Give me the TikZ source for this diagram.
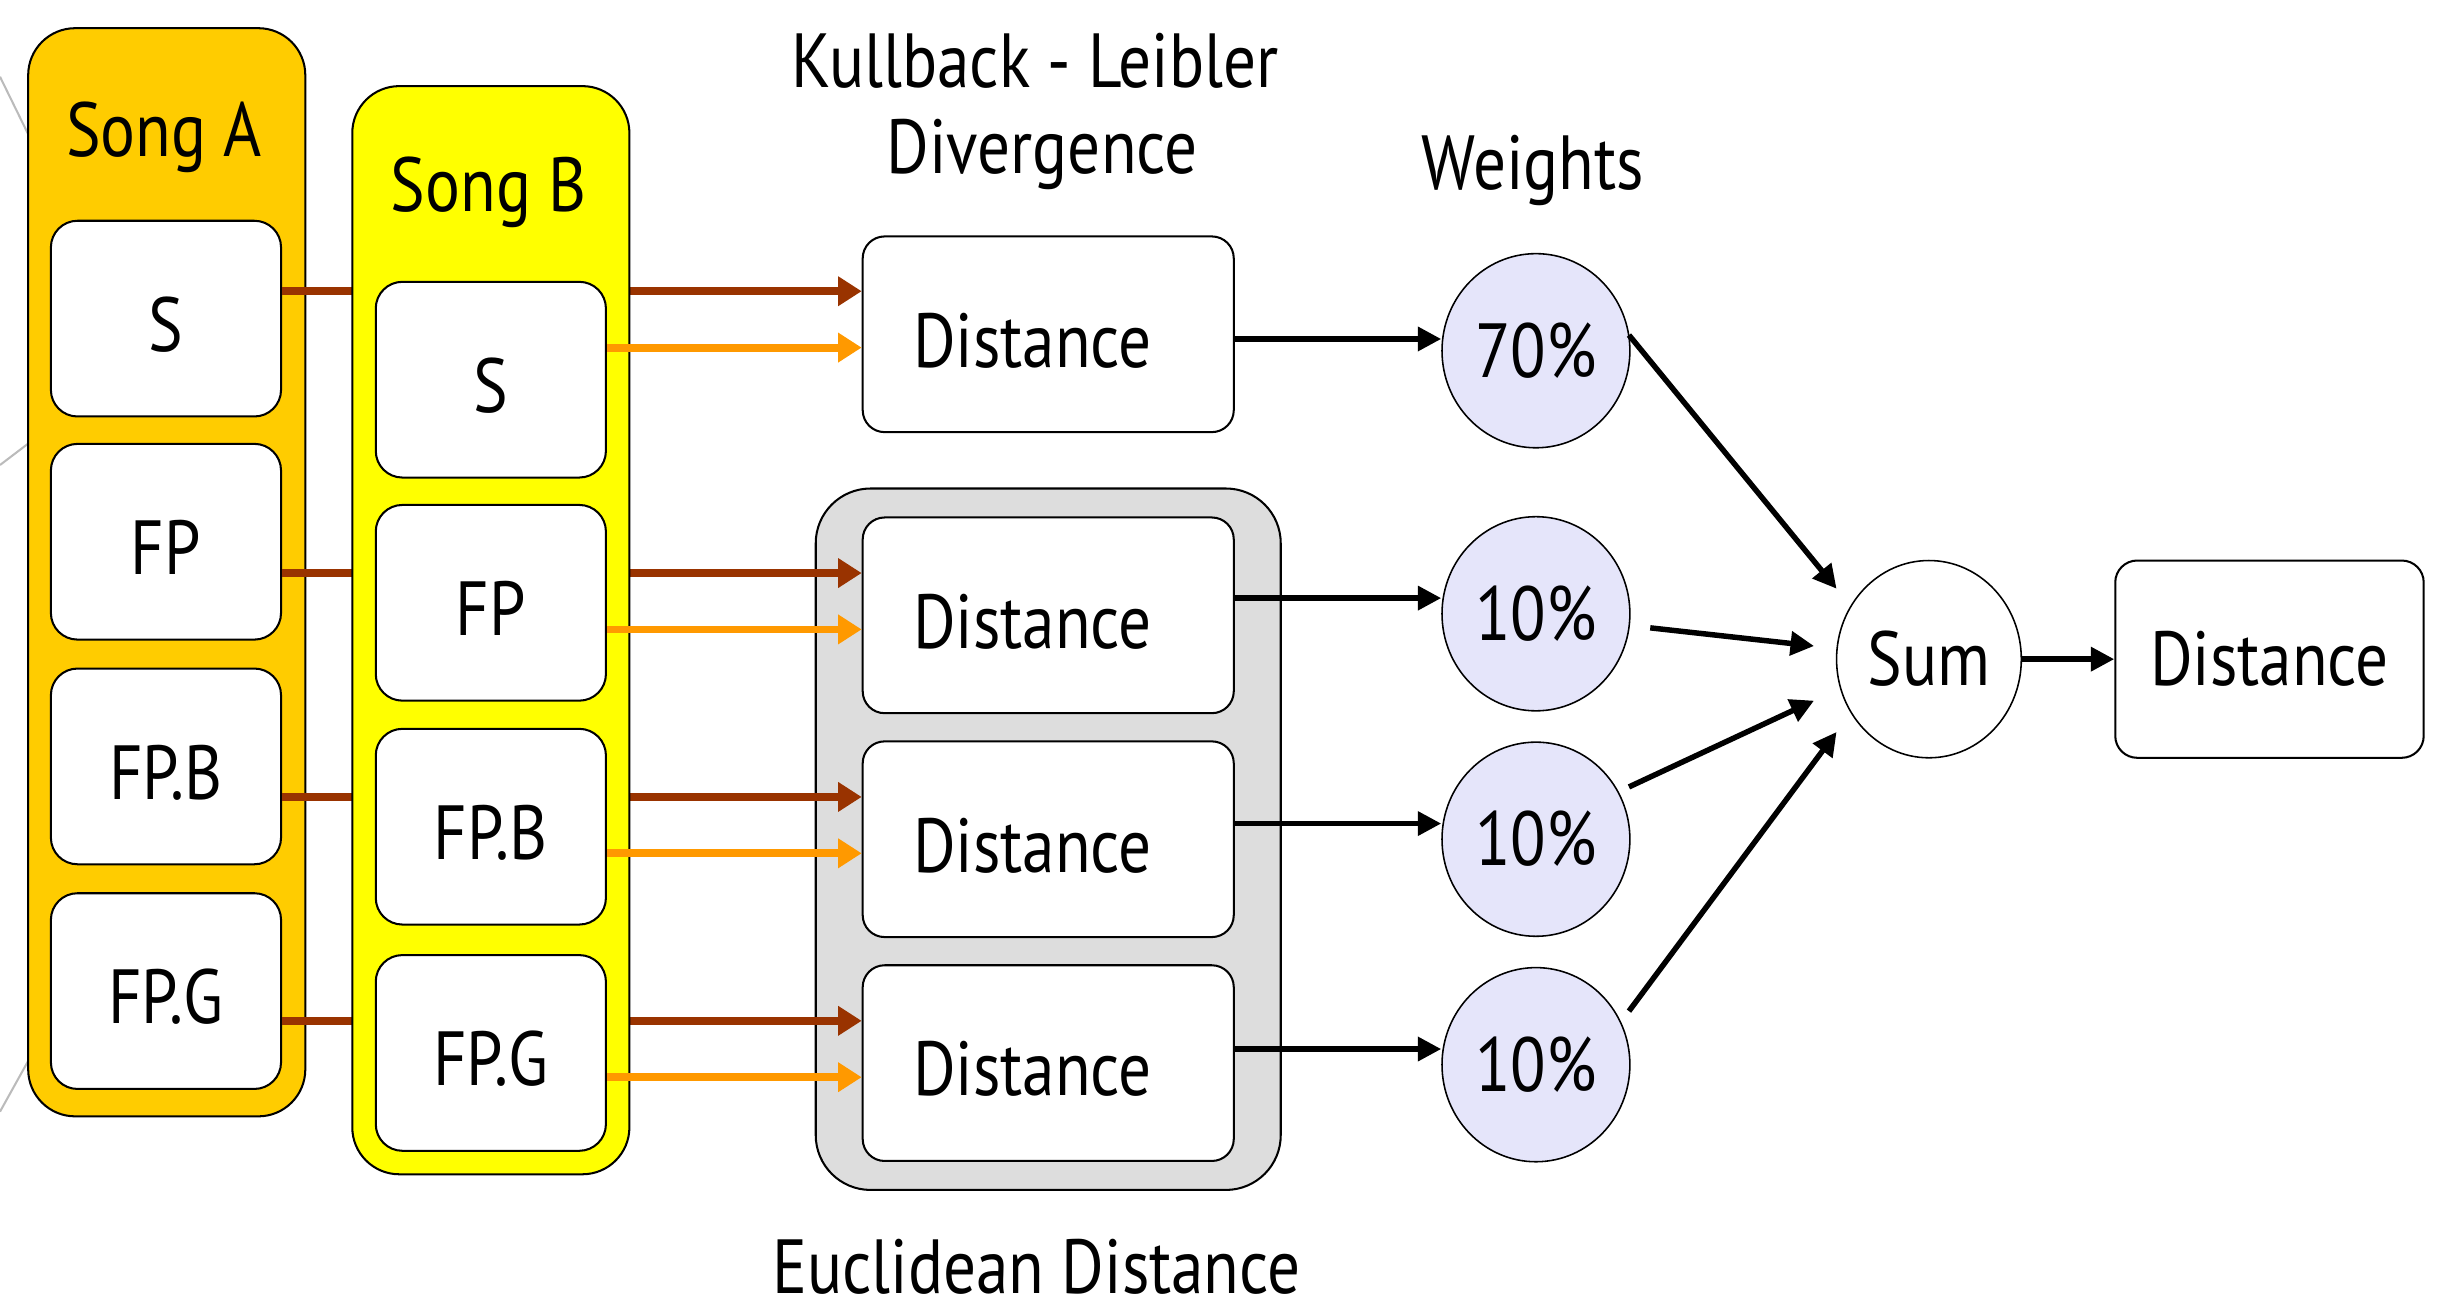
\documentclass[tikz,border=0pt]{standalone}
\usepackage{fontspec}
\setmainfont[FakeStretch=0.85]{PT Sans}
\usetikzlibrary{arrows.meta,calc,shapes.geometric}
\definecolor{songa}{HTML}{FFCC00}
\definecolor{songb}{HTML}{FFFF00}
\definecolor{cbrown}{HTML}{993300}
\definecolor{corange}{HTML}{FF9900}
\definecolor{cgray}{HTML}{DDDDDD}
\definecolor{clav}{HTML}{E5E5FA}
\definecolor{cline}{HTML}{BBBBBB}
\begin{document}
\begin{tikzpicture}[x=1pt,y=-1pt,
  font=\fontsize{49}{58}\selectfont,
  outer/.style={draw=black, line width=1.3pt, rounded corners=30pt, minimum width=177pt, minimum height=695pt, inner sep=0pt},
  box/.style={draw=black, line width=1.3pt, fill=white, rounded corners=17pt, minimum width=147pt, minimum height=125pt, inner sep=0pt, text height=42pt, text depth=0pt},
  dist/.style={box, minimum width=237pt, rounded corners=14pt},
  final/.style={draw=black, line width=1.3pt, fill=white, rounded corners=14pt, minimum width=197pt, minimum height=126pt, inner sep=0pt, text height=34pt, text depth=0pt},
  wt/.style={ellipse, draw=black, line width=1pt, fill=clav, minimum width=120pt, minimum height=124pt, inner sep=0pt, text height=34pt, text depth=0pt},
  sumnode/.style={ellipse, draw=black, line width=1pt, fill=white, minimum width=118pt, minimum height=126pt, inner sep=0pt, text height=34pt, text depth=0pt},
  title/.style={anchor=base, inner sep=0pt},
  brownarrow/.style={draw=cbrown, line width=5pt, -{Triangle[length=15pt,width=18pt]}},
  orangearrow/.style={draw=corange, line width=5pt, -{Triangle[length=15pt,width=18pt]}},
  blackarrow/.style={draw=black, line width=3.5pt, -{Triangle[length=15pt,width=15pt]}},
  bgline/.style={draw=cline, line width=1.3pt}
]
\useasboundingbox (0,0) rectangle (1568,838);

% background decorative lines
\draw[bgline] (0,49) -- (25,100);
\draw[bgline] (0,297) -- (25,278);
\draw[bgline] (0,710) -- (25,665);

% Euclidean container
\node[draw=black, line width=1.3pt, fill=cgray, rounded corners=35pt, minimum width=297pt, minimum height=448pt, inner sep=0pt] (eucl) at (669.5,536) {};

% Song A
\node[outer, fill=songa] (songA) at (106.5,365.5) {};
\node[title] (titleA) at (104.7,99.9) {Song A};
\node[box] (aS) at (106,203.5) {S};
\node[box] (aFP) at (106,346) {FP};
\node[box] (aFPB) at (106,489.5) {FP.B};
\node[box] (aFPG) at (106,633) {FP.G};

% Distance boxes
\node[dist] (d1) at (669.5,213.5) {\hspace*{-20pt}Distance};
\node[dist] (d2) at (669.5,393) {\hspace*{-20pt}Distance};
\node[dist] (d3) at (669.5,536) {\hspace*{-20pt}Distance};
\node[dist] (d4) at (669.5,679) {\hspace*{-20pt}Distance};

% brown connectors from Song A (pass behind Song B)
\coordinate (pa1) at ($(aS.east)+(0,-17.5)$);
\coordinate (pa2) at ($(aFP.east)+(0,20)$);
\coordinate (pa3) at ($(aFPB.east)+(0,19.5)$);
\coordinate (pa4) at ($(aFPG.east)+(0,19)$);
\draw[brownarrow] (pa1) -- (pa1 -| d1.west);
\draw[brownarrow] (pa2) -- (pa2 -| d2.west);
\draw[brownarrow] (pa3) -- (pa3 -| d3.west);
\draw[brownarrow] (pa4) -- (pa4 -| d4.west);

% Song B
\node[outer, fill=songb] (songB) at (313.5,402.5) {};
\node[title] (titleB) at (312.2,135.3) {Song B};
\node[box] (bS) at (313.5,242.5) {S};
\node[box] (bFP) at (313.5,385) {FP};
\node[box] (bFPB) at (313.5,528) {FP.B};
\node[box] (bFPG) at (313.5,672.5) {FP.G};

% orange connectors from Song B
\coordinate (pb1) at ($(bS.east)+(0,-20.5)$);
\coordinate (pb2) at ($(bFP.east)+(0,17)$);
\coordinate (pb3) at ($(bFPB.east)+(0,17)$);
\coordinate (pb4) at ($(bFPG.east)+(0,15.5)$);
\draw[orangearrow] (pb1) -- (pb1 -| d1.west);
\draw[orangearrow] (pb2) -- (pb2 -| d2.west);
\draw[orangearrow] (pb3) -- (pb3 -| d3.west);
\draw[orangearrow] (pb4) -- (pb4 -| d4.west);

% weights
\node[wt] (w1) at (981,224) {70\%};
\node[wt] (w2) at (981,392) {10\%};
\node[wt] (w3) at (981,536) {10\%};
\node[wt] (w4) at (981,680) {10\%};

\coordinate (pd1) at ($(d1.east)+(0,3)$);
\coordinate (pd2) at ($(d2.east)+(0,-11)$);
\coordinate (pd3) at ($(d3.east)+(0,-10)$);
\coordinate (pd4) at ($(d4.east)+(0,-9)$);
\draw[blackarrow] (pd1) -- (pd1 -| w1.west);
\draw[blackarrow] (pd2) -- (pd2 -| w2.west);
\draw[blackarrow] (pd3) -- (pd3 -| w3.west);
\draw[blackarrow] (pd4) -- (pd4 -| w4.west);

% sum and result
\node[sumnode] (sum) at (1232,421) {Sum};
\node[final] (res) at (1449.5,421) {Distance};

\draw[blackarrow] ($(w1)+(59.4,-10)$) -- ($(sum)+(-59,-45)$);
\draw[blackarrow] ($(w2)+(73,9)$) -- ($(sum)+(-73.4,-8.4)$);
\draw[blackarrow] ($(w3)+(59.4,-33.4)$) -- ($(sum)+(-73.4,26.5)$);
\draw[blackarrow] ($(w4)+(59.4,-34.2)$) -- ($(sum)+(-59,46.5)$);
\draw[blackarrow] (sum.east) -- (res.west);

% titles
\node[title] (kl1) at (661,55.8) {Kullback - Leibler};
\node[title] (kl2) at (665.7,110.7) {Divergence};
\node[title] (wtitle) at (979,120.9) {Weights};
\node[title] (etitle) at (662,826) {Euclidean Distance};
\end{tikzpicture}
\end{document}
